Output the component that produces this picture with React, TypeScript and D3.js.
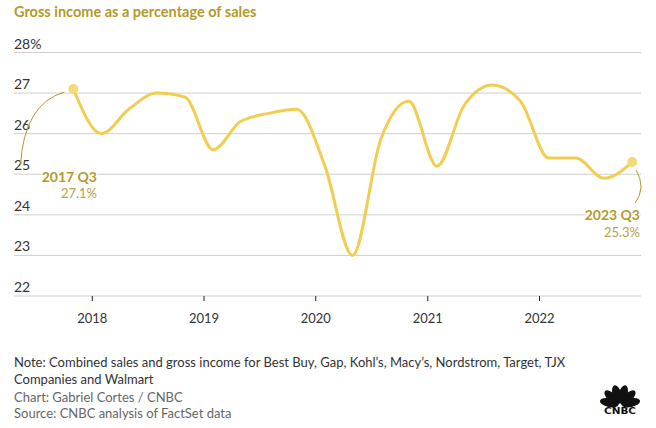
import React from "react";
import * as d3 from "d3";

const quarterDates = [
  "2017-10-31", "2018-01-31", "2018-04-30", "2018-07-31", "2018-10-31",
  "2019-01-31", "2019-04-30", "2019-07-31", "2019-10-31",
  "2020-01-31", "2020-04-30", "2020-07-31", "2020-10-31",
  "2021-01-31", "2021-04-30", "2021-07-31", "2021-10-31",
  "2022-01-31", "2022-04-30", "2022-07-31", "2022-10-31",
];
const grossPct = [
  27.1, 26.0, 26.6, 27.0, 26.9,
  25.6, 26.3, 26.5, 26.6,
  25.2, 23.0, 25.85, 26.8,
  25.2, 26.7, 27.2, 26.8,
  25.4, 25.4, 24.9, 25.3,
];
const yTicks = [22, 23, 24, 25, 26, 27, 28];
const xTickYears = [2018, 2019, 2020, 2021, 2022];
const title = "Gross income as a percentage of sales";
const firstLabel = "2017 Q3";
const firstValue = "27.1%";
const lastLabel = "2023 Q3";
const lastValue = "25.3%";
const noteLines = [
  "Note: Combined sales and gross income for Best Buy, Gap, Kohl\u2019s, Macy\u2019s, Nordstrom, Target, TJX",
  "Companies and Walmart",
];
const creditLines = ["Chart: Gabriel Cortes / CNBC", "Source: CNBC analysis of FactSet data"];

const W = 656;
const H = 428;
const FONT = "Lato, 'Open Sans', sans-serif";
const GOLD = "#b39a2c";
const LINE = "#f1cd52";

export default function App() {
  const parse = d3.timeParse("%Y-%m-%d");
  const data = quarterDates.map((d, i) => ({ date: parse(d) as Date, v: grossPct[i] }));
  const x = d3
    .scaleTime()
    .domain([new Date(2018, 0, 1), new Date(2022, 0, 1)])
    .range([92.3, 539.5]);
  const y = d3.scaleLinear().domain([22, 28]).range([296, 52.5]);
  const gridX0 = 14;
  const gridX1 = 641;
  const line = d3
    .line<{ date: Date; v: number }>()
    .x((d) => x(d.date))
    .y((d) => y(d.v))
    .curve(d3.curveMonotoneX);

  const first = data[0];
  const last = data[data.length - 1];
  const fx = x(first.date);
  const fy = y(first.v);
  const lx = x(last.date);
  const ly = y(last.v);

  // peacock feathers
  const logoCx = 620;
  const logoCy = 405;
  const feathers = [-78, -47, -16, 16, 47, 78];

  return (
    <svg width={W} height={H} style={{ position: "absolute", left: 0, top: 0, background: "#fff" }}>
      <rect width={W} height={H} fill="#fff" />
      <text x={14} y={17} fontFamily={FONT} fontWeight={700} fontSize={14.5} fill={GOLD}>
        {title}
      </text>

      {yTicks.map((t) => (
        <g key={t}>
          <line x1={gridX0} x2={gridX1} y1={y(t)} y2={y(t)} stroke="#cfcfcf" strokeWidth={1} />
          <text x={14} y={y(t) - 4} fontFamily={FONT} fontSize={14} fill="#333">
            {t === 28 ? `${t}%` : t}
          </text>
        </g>
      ))}

      {xTickYears.map((yr) => {
        const xx = x(new Date(yr, 0, 1));
        return (
          <g key={yr}>
            <line x1={xx} x2={xx} y1={y(22)} y2={y(22) + 5} stroke="#222" strokeWidth={1} />
            <text x={xx} y={323} textAnchor="middle" fontFamily={FONT} fontSize={13} fill="#333">
              {yr}
            </text>
          </g>
        );
      })}

      {/* annotation leader lines */}
      <path
        d={`M20.5,165 Q24,104 ${fx - 9},${fy + 3}`}
        fill="none"
        stroke="#b39a2c"
        strokeWidth={1}
      />
      <path
        d={`M${lx + 4},${ly + 8} Q${lx + 14},${ly + 26} ${lx + 3},${ly + 41}`}
        fill="none"
        stroke="#b39a2c"
        strokeWidth={1}
      />

      <path d={line(data) || ""} fill="none" stroke={LINE} strokeWidth={3} strokeLinejoin="round" />
      <circle cx={fx} cy={fy} r={5} fill="#f5d878" />
      <circle cx={lx} cy={ly} r={5} fill="#f5d878" />

      <g fontFamily={FONT} style={{ paintOrder: "stroke" }} stroke="#fff" strokeWidth={3} strokeLinejoin="round">
        <text x={97} y={182} textAnchor="end" fontWeight={700} fontSize={14} fill={GOLD}>
          {firstLabel}
        </text>
        <text x={97} y={198} textAnchor="end" fontSize={13} fill="#b5a14e">
          {firstValue}
        </text>
        <text x={640} y={220} textAnchor="end" fontWeight={700} fontSize={14} fill={GOLD}>
          {lastLabel}
        </text>
        <text x={640} y={237} textAnchor="end" fontSize={13} fill="#b5a14e">
          {lastValue}
        </text>
      </g>

      <g fontFamily={FONT} fontSize={13}>
        {noteLines.map((t, i) => (
          <text key={t} x={14} y={367 + i * 17} fill="#333">
            {t}
          </text>
        ))}
        {creditLines.map((t, i) => (
          <text key={t} x={14} y={402 + i * 16} fill="#666">
            {t}
          </text>
        ))}
      </g>

      <g>
        {feathers.map((a) => (
          <ellipse
            key={a}
            cx={logoCx}
            cy={logoCy - 11}
            rx={4.4}
            ry={9.5}
            fill="#111"
            transform={`rotate(${a} ${logoCx} ${logoCy})`}
          />
        ))}
        <text
          x={logoCx}
          y={logoCy + 9}
          textAnchor="middle"
          fontFamily="'DejaVu Sans', sans-serif"
          fontWeight={700}
          fontSize={9}
          fill="#111"
          textLength={32}
          lengthAdjust="spacingAndGlyphs"
        >
          CNBC
        </text>
      </g>
    </svg>
  );
}
